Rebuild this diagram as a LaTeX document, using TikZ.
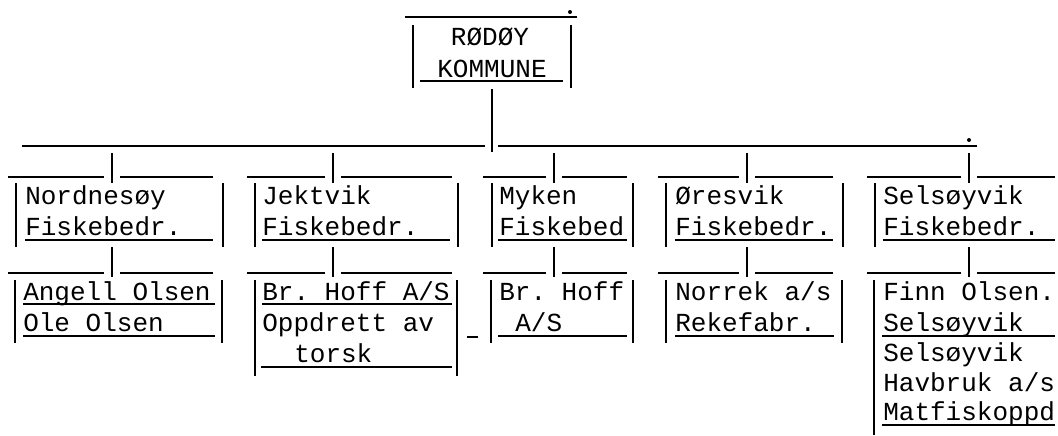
\documentclass[tikz,border=0pt]{standalone}
\usepackage{fontspec}
\setmonofont{Liberation Mono}
\usepackage{tikz}
\usetikzlibrary{positioning}

\tikzset{
  rule/.style={line width=1.1pt},
  typed/.style={anchor=base west, inner sep=0pt, font=\ttfamily\fontsize{18.5}{22}\selectfont},
}

\begin{document}
\begin{tikzpicture}[x=0.025cm, y=-0.025cm]
    \useasboundingbox (0,0) rectangle (1058,435);

    % Kommune
    \draw[rule] (405,17) -- (577,17);
    \fill (570,12) circle (2);
    \draw[rule] (413,25) -- (413,88) (571,25) -- (571,88);
    \node[typed, anchor=base] (rodoy) at (490,45) {RØDØY};
    \node[typed, anchor=base] (kommune) at (492,77) {KOMMUNE};
    \draw[rule] (420,81) -- (563,81);

    % Trunk
    \coordinate (hub) at (492,89);
    \coordinate (bus) at (492,152);
    \draw[rule] (hub) -- (bus);
    \draw[rule] (22,146) -- (485,146) (498,146) -- (977,146);
    \fill (969,140) circle (2);

    % Branch ticks
    \foreach \x/\l/\r in {112/8/213, 333/247/452, 554/483/627, 747/658/833, 969/867/1055} {
        \draw[rule] (\x,153) -- (\x,183);
        \draw[rule] (\l,177) -- (\x-8,177) (\x+8,177) -- (\r,177);
        \draw[rule] (\x,247) -- (\x,277);
        \draw[rule] (\l,273) -- (\x-8,273) (\x+8,273) -- (\r,273);
    }

    % Nordnesoy
    \draw[rule] (16,183) -- (16,247) (223,183) -- (223,247);
    \node[typed] (nord) at (25,204) {Nordnesøy};
    \node[typed] (nordfb) at (25,235) {Fiskebedr.};
    \draw[rule] (25,240) -- (213,240);
    \draw[rule] (15,280) -- (15,343) (222,280) -- (222,343);
    \node[typed] (angell) at (23,300) {Angell Olsen};
    \draw[rule] (23,304) -- (215,304);
    \node[typed] (ole) at (23,331) {Ole Olsen};
    \draw[rule] (23,336) -- (215,336);

    % Jektvik
    \draw[rule] (255,183) -- (255,247) (458,183) -- (458,247);
    \node[typed] (jekt) at (262,204) {Jektvik};
    \node[typed] (jektfb) at (262,235) {Fiskebedr.};
    \draw[rule] (262,240) -- (450,240);
    \draw[rule] (255,280) -- (255,376) (457,280) -- (457,376);
    \node[typed] (hoff) at (262,300) {Br. Hoff A/S};
    \draw[rule] (262,304) -- (452,304);
    \node[typed] (oppdrett) at (262,331) {Oppdrett av};
    \node[typed] (torsk) at (294,362) {torsk};
    \draw[rule] (261,367) -- (452,367);
    \draw[rule] (467,337) -- (478,337);

    % Myken
    \draw[rule] (492,183) -- (492,247) (633,183) -- (633,247);
    \node[typed] (myken) at (499,204) {Myken};
    \node[typed] (mykenfb) at (499,235) {Fiskebed};
    \draw[rule] (498,240) -- (627,240);
    \draw[rule] (491,280) -- (491,343) (633,280) -- (633,343);
    \node[typed] (brhoff) at (499,300) {Br. Hoff};
    \node[typed] (as) at (515,331) {A/S};
    \draw[rule] (498,336) -- (627,336);

    % Oresvik
    \draw[rule] (666,183) -- (666,247) (843,183) -- (843,247);
    \node[typed] (ores) at (675,204) {Øresvik};
    \node[typed] (oresfb) at (675,235) {Fiskebedr.};
    \draw[rule] (675,240) -- (833,240);
    \draw[rule] (666,280) -- (666,343) (842,280) -- (842,343);
    \node[typed] (norrek) at (675,300) {Norrek a/s};
    \node[typed] (reke) at (675,331) {Rekefabr.};
    \draw[rule] (675,336) -- (834,336);

    % Selsoyvik
    \draw[rule] (875,183) -- (875,247);
    \node[typed] (sels) at (883,204) {Selsøyvik};
    \node[typed] (selsfb) at (883,235) {Fiskebedr.};
    \draw[rule] (883,240) -- (1055,240);
    \draw[rule] (874,280) -- (874,435);
    \node[typed] (finn) at (883,300) {Finn Olsen.};
    \node[typed] (finnsels) at (883,331) {Selsøyvik};
    \draw[rule] (882,336) -- (1055,336);
    \node[typed] (selshav) at (883,361) {Selsøyvik};
    \node[typed] (havbruk) at (883,391) {Havbruk a/s};
    \node[typed] (matfisk) at (883,420) {Matfiskoppd};
    \draw[rule] (882,425) -- (1055,425);
\end{tikzpicture}
\end{document}
